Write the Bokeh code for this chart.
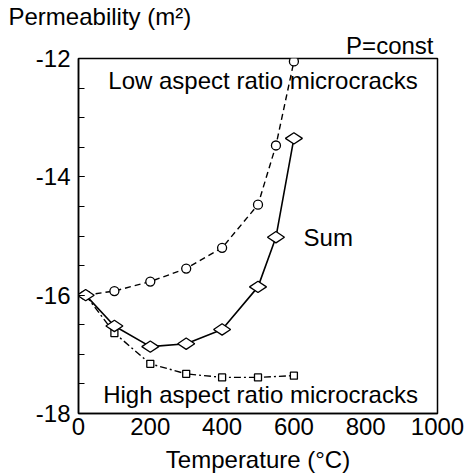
import math
from bokeh.plotting import figure
from bokeh.models import Label, Title, SingleIntervalTicker, FixedTicker, Range1d, PrintfTickFormatter
from bokeh.embed import file_html
from bokeh.resources import INLINE

# Data (temperature in °C, log10 permeability in m^2)
low_T = [20, 100, 200, 300, 400, 500, 550, 600]
low_k = [-16.0, -15.93, -15.77, -15.55, -15.2, -14.47, -13.47, -12.05]

sum_T = [20, 100, 200, 300, 400, 500, 550, 600]
sum_k = [-16.0, -16.52, -16.87, -16.82, -16.58, -15.86, -15.02, -13.35]

high_T = [20, 100, 200, 300, 400, 500, 600]
high_k = [-16.0, -16.64, -17.16, -17.33, -17.39, -17.39, -17.36]

x_ticks = [0, 200, 400, 600, 800, 1000]
FONT = "Liberation Sans"
FS = "24px"

p = figure(width=466, height=476, output_backend="svg", toolbar_location=None,
           x_range=Range1d(0, 1000), y_range=Range1d(-18, -12),
           title="Permeability (m²)",
           min_border_left=78, min_border_right=29, min_border_top=57, min_border_bottom=63)
p.background_fill_color = "white"
p.border_fill_color = "white"
p.outline_line_color = "black"
p.outline_line_width = 1.5
p.grid.visible = False

p.title.align = "left"
p.title.offset = -70
p.title.standoff = 0
p.title.text_font = FONT
p.title.text_font_size = FS
p.title.text_font_style = "normal"
p.title.text_color = "black"

p.add_layout(Title(text="P=const", align="right", offset=4, standoff=0,
                   text_font=FONT, text_font_size=FS, text_font_style="normal",
                   text_color="black"), "above")

# axes
xa = p.xaxis[0]
xa.ticker = FixedTicker(ticks=x_ticks)
xa.formatter = PrintfTickFormatter(format="%d")
xa.major_tick_in = 0
xa.major_tick_out = 0
xa.minor_tick_in = 0
xa.minor_tick_out = 0
xa.axis_line_color = "black"
xa.axis_line_width = 1.5
xa.major_label_text_font = FONT
xa.major_label_text_font_size = FS
xa.major_label_text_color = "black"
xa.major_label_standoff = 4
xa.axis_label = "Temperature (°C)"
xa.axis_label_text_font = FONT
xa.axis_label_text_font_size = FS
xa.axis_label_text_font_style = "normal"
xa.axis_label_text_color = "black"
xa.axis_label_standoff = 8

ya = p.yaxis[0]
ya.ticker = SingleIntervalTicker(interval=2, num_minor_ticks=4)
ya.formatter = PrintfTickFormatter(format="%d")
ya.major_tick_in = 6
ya.major_tick_out = 0
ya.minor_tick_in = 6
ya.minor_tick_out = 0
ya.major_tick_line_width = 1.2
ya.minor_tick_line_width = 1.2
ya.axis_line_color = "black"
ya.axis_line_width = 1.5
ya.major_label_text_font = FONT
ya.major_label_text_font_size = FS
ya.major_label_text_color = "black"
ya.major_label_standoff = 8

# series
p.line(low_T, low_k, line_color="black", line_width=1.4, line_dash="6 4")
p.scatter(low_T, low_k, marker="circle", size=9, line_color="black",
          fill_color="white", line_width=1.3)

p.line(high_T, high_k, line_color="black", line_width=1.4, line_dash="7 3 2 3")
p.scatter(high_T, high_k, marker="square", size=7, line_color="black",
          fill_color="white", line_width=1.3)

p.line(sum_T, sum_k, line_color="black", line_width=1.6)
p.scatter(sum_T, sum_k, marker="diamond", size=17, angle=math.pi / 2, line_color="black",
          fill_color="white", line_width=1.3)

def lab(x, y, t, align="left"):
    p.add_layout(Label(x=x, y=y, text=t, text_font=FONT, text_font_size=FS,
                       text_color="black", text_align=align,
                       text_baseline="alphabetic"))

lab(514, -12.37, "Low aspect ratio microcracks", "center")
lab(507, -17.68, "High aspect ratio microcracks", "center")
lab(627, -15.03, "Sum")

open("out.html", "w").write(file_html(p, INLINE))
